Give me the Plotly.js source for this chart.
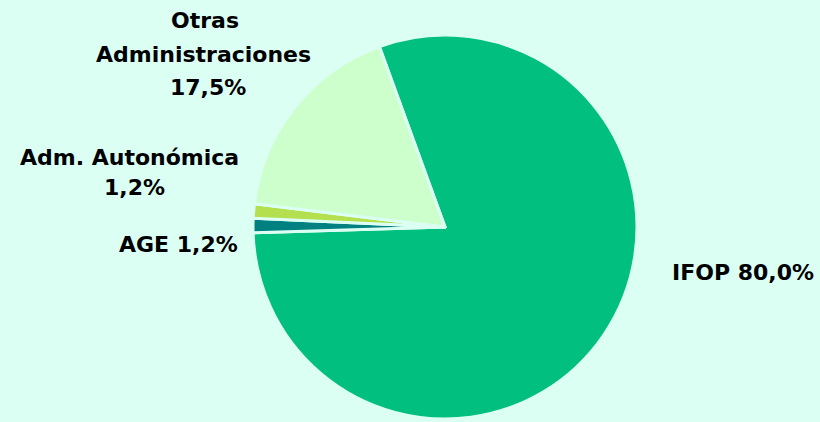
<!DOCTYPE html>
<html><head><meta charset="utf-8">
<script src="https://cdn.plot.ly/plotly-3.0.1.min.js"></script>
<style>html,body{margin:0;padding:0;background:#dcfff4;}#chart{width:820px;height:422px;}</style>
</head><body><div id="chart"></div>
<script>
var categories = ["IFOP", "AGE", "Adm. Autonómica", "Otras Administraciones"];
var shares = [80.0, 1.2, 1.2, 17.5];
var sliceColors = ["#00bf7f", "#008080", "#b4e050", "#ccffcc"];
var labelLines = [
  ["IFOP 80,0%"],
  ["AGE 1,2%"],
  ["Adm. Autonómica", "1,2%"],
  ["Otras", "Administraciones", "17,5%"]
];
// label line anchor positions (pixels from top-left)
var labelPos = [
  [[743, 272]],
  [[178, 244]],
  [[129, 157], [134, 188]],
  [[205, 20], [203, 55], [208, 88]]
];
var W = 820, H = 422, BG = "#dcfff4";
var annotations = [];
labelLines.forEach(function (lines, i) {
  lines.forEach(function (t, j) {
    annotations.push({
      text: "<b>" + t + "</b>", showarrow: false,
      xref: "paper", yref: "paper",
      x: labelPos[i][j][0] / W, y: 1 - labelPos[i][j][1] / H,
      xanchor: "center", yanchor: "middle",
      font: {family: "DejaVu Sans", size: 22, color: "#000"}
    });
  });
});
var trace = {
  type: "pie", values: shares, labels: categories, sort: false,
  direction: "clockwise", rotation: -20, textinfo: "none", hoverinfo: "label+percent",
  marker: {colors: sliceColors, line: {color: BG, width: 3}},
  domain: {x: [253 / W, 637 / W], y: [3 / H, 387 / H]}
};
Plotly.newPlot("chart", [trace], {
  width: W, height: H, margin: {l: 0, r: 0, t: 0, b: 0},
  paper_bgcolor: BG, plot_bgcolor: BG, showlegend: false,
  annotations: annotations
}, {displayModeBar: false, staticPlot: true});
</script></body></html>
